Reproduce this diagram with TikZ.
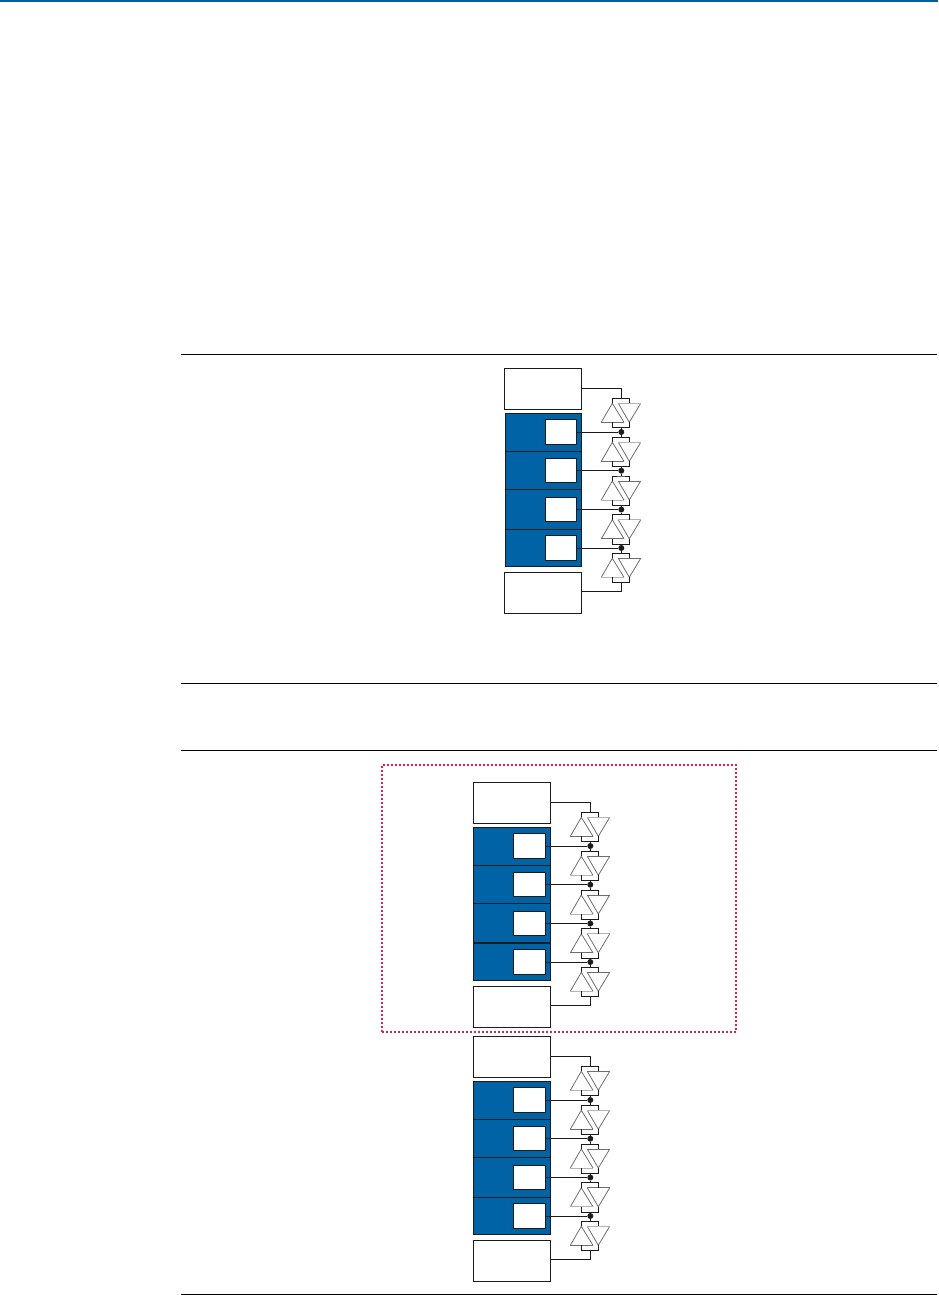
\documentclass[tikz,border=0pt]{standalone}
\definecolor{cblue}{HTML}{0063A6}
\definecolor{cbar}{HTML}{00609E}
\definecolor{cred}{HTML}{ED1C50}
\definecolor{cink}{HTML}{1C1C1C}
\definecolor{tridark}{HTML}{6E6E6E}
\definecolor{trilight}{HTML}{B4B4B4}
\tikzset{
  wire/.style={draw=cink,line width=0.95pt,line join=miter},
  tri/.style={draw=tridark,line width=0.8pt,line join=round},
  bx/.style={draw=cink,line width=1pt,fill=white,inner sep=0pt,outer sep=0pt,anchor=north west},
  bluecell/.style={draw=cink,line width=0.9pt,fill=cblue,inner sep=0pt,outer sep=0pt,anchor=north west},
  dotnode/.style={circle,fill=cink,draw=none,minimum size=6pt,inner sep=0pt,outer sep=0pt},
  rulebar/.style={draw=black,line width=1pt},
  redframe/.style={draw=cred,line width=2pt,dash pattern=on 2pt off 2pt,inner sep=0pt,outer sep=0pt,anchor=north west,fill=none}
}
% name, top y, flag (0: top of inverted triangle light, 1: base of upright triangle light)
\newcommand{\diodeunit}[3]{%
  \coordinate (#1a) at (621.3,#2);
  \coordinate (#1b) at (621.3,{#2+29.4});
  \draw[tri] (612.3,{#2+5}) -- (601.3,{#2+24}) (612.3,{#2+5}) -- (624,{#2+24});
  \draw[tri] (618.3,{#2+5}) -- (629.3,{#2+24}) (640.7,{#2+5}) -- (629.3,{#2+24});
  \ifnum#3=1
    \draw[tri,draw=trilight] (601.3,{#2+24}) -- (624,{#2+24});
    \draw[tri] (618.3,{#2+5}) -- (640.7,{#2+5});
  \else
    \draw[tri] (601.3,{#2+24}) -- (624,{#2+24});
    \draw[tri,draw=trilight] (618.3,{#2+5}) -- (640.7,{#2+5});
  \fi
  \draw[wire] (612.3,{#2+5}) |- (#1a) -| (629.3,{#2+5});
  \draw[wire] (612.3,{#2+24}) |- (#1b) -| (629.3,{#2+24});
}
% group name, dx, dy, five flags, extra width to the left of blue block and cells
\newcommand{\bankgroup}[9]{%
  \begin{scope}[shift={(#2,#3)}]
    \node[bx,minimum width=77.4pt,minimum height=41pt] (#1top) at (504.3,368.3) {};
    \node[bx,minimum width=77.4pt,minimum height=41pt] (#1bot) at (504.3,572.3) {};
    \node[bluecell,minimum width={(76.4+#9)*1pt},minimum height=38pt]   (#1b1) at ({505.3-#9},413.3) {};
    \node[bluecell,minimum width={(76.4+#9)*1pt},minimum height=38.2pt] (#1b2) at ({505.3-#9},451.3) {};
    \node[bluecell,minimum width={(76.4+#9)*1pt},minimum height=39.8pt] (#1b3) at ({505.3-#9},489.5) {};
    \node[bluecell,minimum width={(76.4+#9)*1pt},minimum height=37pt]   (#1b4) at ({505.3-#9},529.3) {};
    \node[bx,minimum width={(31.4+#9)*1pt},minimum height=24.4pt,anchor=west] (#1c1) at ({545.3-#9},432) {};
    \node[bx,minimum width={(31.4+#9)*1pt},minimum height=24.4pt,anchor=west] (#1c2) at ({545.3-#9},470.7) {};
    \node[bx,minimum width={(31.4+#9)*1pt},minimum height=24.4pt,anchor=west] (#1c3) at ({545.3-#9},509.5) {};
    \node[bx,minimum width={(31.4+#9)*1pt},minimum height=24.4pt,anchor=west] (#1c4) at ({545.3-#9},548) {};
    \node[dotnode] (#1d1) at (621.3,432) {};
    \node[dotnode] (#1d2) at (621.3,470.7) {};
    \node[dotnode] (#1d3) at (621.3,509.5) {};
    \node[dotnode] (#1d4) at (621.3,548) {};
    \diodeunit{#1u1}{398.3}{#4}
    \diodeunit{#1u2}{437.3}{#5}
    \diodeunit{#1u3}{476}{#6}
    \diodeunit{#1u4}{514.8}{#7}
    \diodeunit{#1u5}{553.3}{#8}
    \draw[wire] (#1top.east) -| (#1u1a);
    \draw[wire] (#1u1b) -- (#1d1);
    \draw[wire] (#1d1) -- (#1u2a);
    \draw[wire] (#1u2b) -- (#1d2);
    \draw[wire] (#1d2) -- (#1u3a);
    \draw[wire] (#1u3b) -- (#1d3);
    \draw[wire] (#1d3) -- (#1u4a);
    \draw[wire] (#1u4b) -- (#1d4);
    \draw[wire] (#1d4) -- (#1u5a);
    \draw[wire] (#1u5b) |- ([yshift=1.8pt]#1bot.east);
    \draw[wire] (#1c1.east) -- (#1d1);
    \draw[wire] (#1c2.east) -- (#1d2);
    \draw[wire] (#1c3.east) -- (#1d3);
    \draw[wire] (#1c4.east) -- (#1d4);
  \end{scope}
}
\begin{document}
\begin{tikzpicture}[x=1pt,y=-1pt]
  \useasboundingbox (0,0) rectangle (938,1295);
  \fill[cbar] (0,0) rectangle (938,2.2);
  \coordinate (r1a) at (181,354.3);   \coordinate (r1b) at (937,354.3);
  \coordinate (r2a) at (181,683.5);   \coordinate (r2b) at (937,683.5);
  \coordinate (r3a) at (181,750.2);   \coordinate (r3b) at (937,750.2);
  \coordinate (r4a) at (181,1294.6);  \coordinate (r4b) at (937,1294.6);
  \draw[rulebar] (r1a) -- (r1b);
  \draw[rulebar] (r2a) -- (r2b);
  \draw[rulebar] (r3a) -- (r3b);
  \draw[rulebar] (r4a) -- (r4b);
  \bankgroup{A}{0}{0}{0}{0}{1}{0}{1}{0}
  \bankgroup{B}{-31}{414}{0}{1}{1}{0}{1}{1}
  \bankgroup{C}{-31}{668}{1}{0}{1}{1}{0}{1}
  \draw[draw=cink,line width=1.8pt] (Bb3.south west) -- (Bb3.south east);
  \node[redframe,minimum width=354pt,minimum height=267pt] (frame) at (382,765) {};
\end{tikzpicture}
\end{document}
